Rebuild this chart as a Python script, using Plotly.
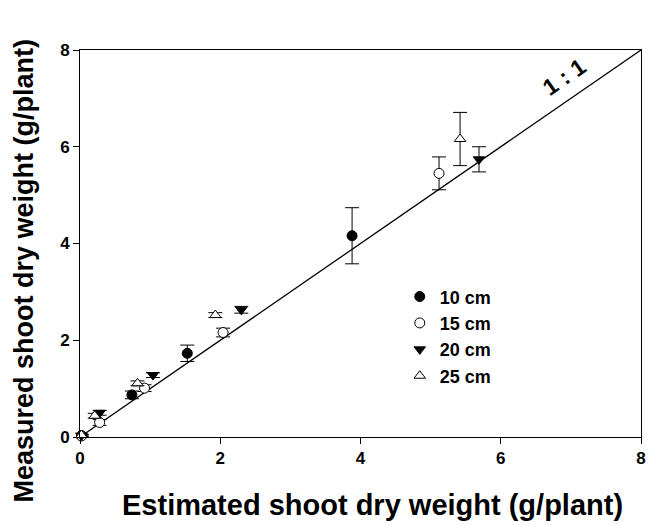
import plotly.graph_objects as go

# Data: estimated (x) vs measured (y) shoot dry weight, g/plant
x_10 = [0.02, 0.74, 1.53, 3.88]
y_10 = [0.03, 0.87, 1.73, 4.16]
e_10 = [0.02, 0.08, 0.17, 0.58]

x_15 = [0.02, 0.28, 0.92, 2.04, 5.12]
y_15 = [0.02, 0.30, 1.01, 2.16, 5.45]
e_15 = [0.02, 0.06, 0.07, 0.09, 0.34]

x_20 = [0.02, 0.28, 1.04, 2.30, 5.69]
y_20 = [0.03, 0.50, 1.28, 2.63, 5.74]
e_20 = [0.02, 0.05, 0.05, 0.07, 0.26]

x_25 = [0.02, 0.21, 0.82, 1.93, 5.42]
y_25 = [0.04, 0.44, 1.11, 2.52, 6.16]
e_25 = [0.02, 0.05, 0.05, 0.05, 0.55]

line_xy = [0, 8]
ticks = [0, 2, 4, 6, 8]
tick_labels = ["<b>0</b>", "<b>2</b>", "<b>4</b>", "<b>6</b>", "<b>8</b>"]

FONT = "Arial, Liberation Sans, sans-serif"

fig = go.Figure()
fig.add_trace(go.Scatter(x=line_xy, y=line_xy, mode="lines",
                         line=dict(color="black", width=1.3),
                         showlegend=False, hoverinfo="skip"))

def add(xs, ys, es, name, symbol, fill):
    fig.add_trace(go.Scatter(
        x=xs, y=ys, mode="markers", name="<b>" + name + "</b>",
        cliponaxis=False,
        error_y=dict(type="data", array=es, visible=True,
                     color="black", thickness=1, width=7),
        marker=dict(symbol=symbol, size=10, color=fill,
                    line=dict(color="black", width=1))))

add(x_10, y_10, e_10, "10 cm", "circle", "black")
add(x_15, y_15, e_15, "15 cm", "circle", "white")
add(x_20, y_20, e_20, "20 cm", "triangle-down", "black")
add(x_25, y_25, e_25, "25 cm", "triangle-up", "white")

fig.add_annotation(x=6.9, y=7.45, text="<b>1 : 1</b>", showarrow=False,
                   textangle=-34.6, font=dict(family=FONT, size=23, color="black"))

fig.add_annotation(xref="paper", yref="paper", x=0.522, y=-0.176,
                   xanchor="center", yanchor="middle", showarrow=False,
                   text="<b>Estimated shoot dry weight (g/plant)</b>",
                   font=dict(family=FONT, size=29, color="black"))
fig.add_annotation(xref="paper", yref="paper", x=-0.1, y=0.43,
                   xanchor="center", yanchor="middle", showarrow=False, textangle=-90,
                   text="<b>Measured shoot dry weight (g/plant)</b>",
                   font=dict(family=FONT, size=27, color="black"))

axis_common = dict(range=[0, 8], tickvals=ticks, ticktext=tick_labels,
                   ticks="outside", ticklen=6, automargin=False,
                   tickcolor="black", showline=True, linecolor="black", linewidth=1,
                   mirror=True, showgrid=False, zeroline=False,
                   tickfont=dict(family=FONT, size=17, color="black"))

fig.update_layout(
    width=648, height=525,
    margin=dict(l=80, r=7, t=50, b=88),
    plot_bgcolor="white", paper_bgcolor="white",
    xaxis=dict(**axis_common),
    yaxis=dict(**axis_common),
    legend=dict(x=0.57, y=0.41, xanchor="left", yanchor="top",
                bgcolor="rgba(0,0,0,0)", borderwidth=0,
                font=dict(family=FONT, size=18, color="black"),
                itemsizing="trace", tracegroupgap=0),
    font=dict(family=FONT),
)

fig.write_html("out.html",
               config={"displayModeBar": False},
               post_script="document.body.style.margin='0';"
                           "document.body.style.overflow='hidden';")
